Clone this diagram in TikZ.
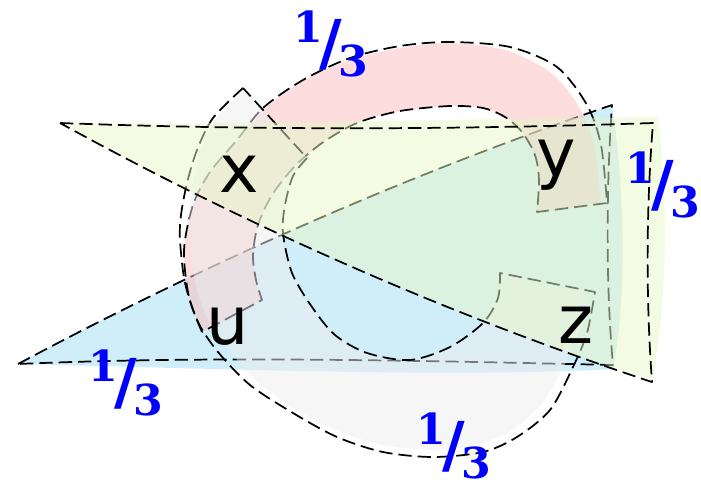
\documentclass[tikz,border=0pt]{standalone}
\usepackage{fontspec}
\usepackage{graphicx}
\usepackage{tikz}
\newfontfamily\vertexfont{DejaVu Sans}
\newfontfamily\weightfont{DejaVu Serif}
\definecolor{edgeBlue}{RGB}{161,221,245}
\definecolor{edgeLime}{RGB}{231,247,199}
\definecolor{edgePink}{RGB}{251,187,187}
\definecolor{edgeGray}{RGB}{237,237,237}
\definecolor{weightBlue}{RGB}{0,0,255}
\newcommand{\wthird}{\raisebox{.4em}{1}\kern-.08em\raisebox{-.12em}{\scalebox{1.45}{/}}\kern-.08em\raisebox{-.4em}{3}}
\tikzset{
  hyperLine/.style={draw=black, line width=1.3pt, dash pattern=on 10pt off 4.5pt, line join=round},
  hyperFill/.style={fill opacity=0.5, draw=none},
  vertexLabel/.style={font=\vertexfont\fontsize{50}{56}\selectfont, inner sep=0pt, text=black},
  weightLabel/.style={font=\weightfont\bfseries\fontsize{32}{36}\selectfont, text=weightBlue, inner sep=0pt}
}
\begin{document}
\begin{tikzpicture}[x=0.75pt, y=-0.75pt]
  \useasboundingbox (0,0) rectangle (701,487);
  % blue edge
  \fill[hyperFill, fill=edgeBlue] (18,364) .. controls (209,262) and (407,175) .. (612,105)
    .. controls (626,200) and (626,300) .. (613,369) .. controls (450,378) and (200,368) .. (18,364) -- cycle;
  \draw[hyperLine] (18,364) .. controls (209,262) and (407,175) .. (612,105)
    .. controls (606,190) and (606,290) .. (613,365) .. controls (400,360) and (200,356) .. (18,364) -- cycle;
  % pink edge
  \fill[hyperFill, fill=edgePink] plot[smooth] coordinates {(202,332) (189,297) (184,250) (193,205) (212,170) (240,138) (268,106) (305,80) (350,60) (400,48) (450,43) (505,50) (550,72) (578,105) (594,145) (601,203)}
    -- plot[smooth] coordinates {(537,212) (539,180) (535,155) (522,132) (505,117) (483,108) (450,106) (400,111) (357,123) (322,143) (295,166) (272,195) (258,225) (253,255) (256,280) (262,300)} -- cycle;
  \draw[hyperLine] plot[smooth] coordinates {(202,332) (189,297) (184,250) (193,205) (210,172) (237,140) (263,108) (303,80) (350,58) (400,46) (450,42) (510,47) (557,67) (587,105) (601,145) (607,203)}
    -- plot[smooth] coordinates {(537,212) (539,180) (535,155) (522,132) (505,117) (483,108) (450,106) (400,111) (357,123) (322,143) (295,166) (272,195) (258,225) (253,255) (256,280) (262,300)} -- cycle;
  % gray edge
  \fill[hyperFill, fill=edgeGray] plot[smooth] coordinates {(243,90) (215,120) (200,153) (192,185) (189,215) (190,245) (196,285) (208,320) (230,352) (262,385) (300,412) (340,432) (383,445) (433,450) (480,444) (515,428) (543,402) (563,368) (580,330) (590,294)}
    -- plot[smooth] coordinates {(500,273) (498,298) (483,323) (450,347) (410,360) (367,353) (335,335) (312,307) (292,273) (283,233) (285,205) (293,176) (307,158)} -- cycle;
  \draw[hyperLine] plot[smooth] coordinates {(243,88) (213,118) (197,150) (187,183) (181,215) (180,240) (185,283) (198,322) (218,352) (250,385) (293,413) (337,437) (383,452) (433,457) (483,452) (517,437) (550,410) (573,367) (587,333) (595,292)}
    -- plot[smooth] coordinates {(500,273) (498,298) (483,323) (450,347) (410,360) (367,353) (335,335) (312,307) (292,273) (283,233) (285,205) (293,176) (307,158)} -- cycle;
  % lime edge
  \fill[hyperFill, fill=edgeLime] (60,123) .. controls (250,125) and (450,119) .. (658,117)
    .. controls (668,200) and (668,300) .. (652,380) .. controls (447,314) and (249,227) .. (60,123) -- cycle;
  \draw[hyperLine] (60,123) .. controls (250,130) and (450,130) .. (653,123)
    .. controls (646,210) and (646,300) .. (652,382) .. controls (447,314) and (249,227) .. (60,123) -- cycle;
  \node[vertexLabel] (vx) at (239,174) {x};
  \node[vertexLabel] (vy) at (556,165) {y};
  \node[vertexLabel] (vu) at (228,326) {u};
  \node[vertexLabel] (vz) at (576,325) {z};
  \node[weightLabel] (wTop) at (331,44) {\wthird};
  \node[weightLabel] (wRight) at (663,185) {\wthird};
  \node[weightLabel] (wLeft) at (126,383) {\wthird};
  \node[weightLabel] (wBottom) at (454,446) {\wthird};
\end{tikzpicture}
\end{document}
